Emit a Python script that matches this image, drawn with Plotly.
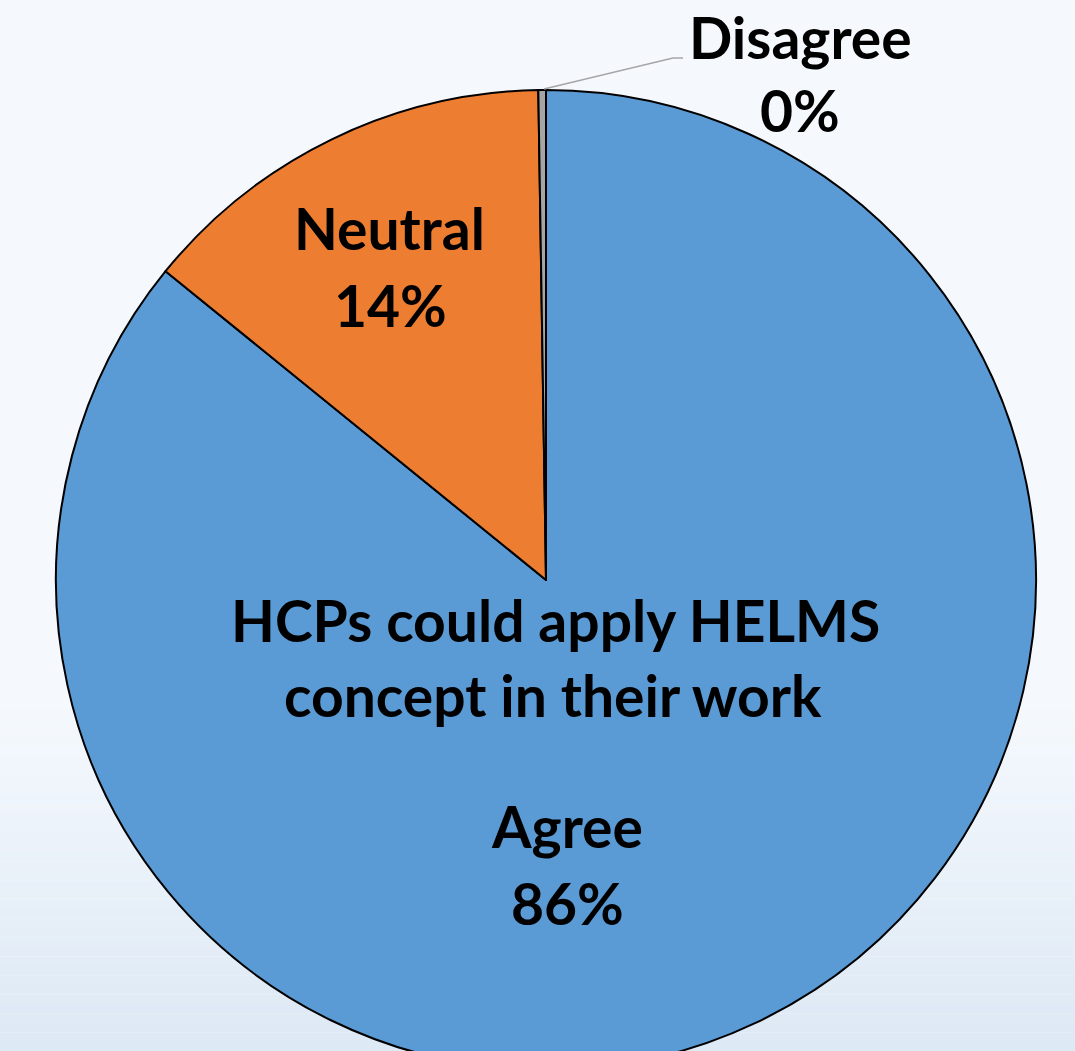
import plotly.graph_objects as go

# ---- data ----
labels = ["Agree", "Neutral", "Disagree"]
values = [85.85, 13.9, 0.25]
pct_text = ["86%", "14%", "0%"]
colors = ["#5B9BD5", "#ED7D31", "#A5A5A5"]
title_lines = ["HCPs could apply HELMS", "concept in their work"]

W, H = 1075, 1080
CX, CY, R = 546, 580, 490


def px(x):
    return x / W


def py(y):
    return (H - y) / H


fig = go.Figure()
fig.add_trace(go.Pie(
    labels=labels,
    values=values,
    sort=False,
    direction="clockwise",
    rotation=0,
    marker=dict(colors=colors, line=dict(color="#000000", width=2)),
    textinfo="none",
    hoverinfo="label+percent",
    showlegend=False,
    domain=dict(x=[px(CX - R), px(CX + R)], y=[py(CY + R), py(CY - R)]),
))

# background gradient (top part flat, lower part fading to light blue)
shapes = []
top_rgb = (245, 249, 253)
bot_rgb = (219, 231, 244)
start, end = 700, 1080
n = 40
for i in range(n):
    y0 = start + (end - start) * i / n
    y1 = start + (end - start) * (i + 1) / n
    t = (i + 0.5) / n
    c = tuple(round(a + (b - a) * t) for a, b in zip(top_rgb, bot_rgb))
    shapes.append(dict(type="rect", xref="paper", yref="paper",
                       x0=0, x1=1, y0=py(y1), y1=py(y0),
                       fillcolor="rgb(%d,%d,%d)" % c, line=dict(width=0),
                       layer="below"))

# leader line for Disagree
shapes.append(dict(type="path", xref="paper", yref="paper",
                   path="M %f,%f L %f,%f L %f,%f" % (px(544), py(89), px(673), py(58), px(683), py(58)),
                   line=dict(color="#A6A6A6", width=1.5)))

font = dict(family="Lato", size=57, color="#000000")
ann = []


def add(text, x, y):
    ann.append(dict(text="<b>%s</b>" % text, x=px(x), y=py(y), xref="paper", yref="paper",
                    xanchor="center", yanchor="middle", showarrow=False, font=font))


# data labels
label_pos = {"Agree": ((567, 826), (567, 903)),
             "Neutral": ((389, 228), (390, 305)),
             "Disagree": ((800, 37), (800, 110))}
for lab, pct in zip(labels, pct_text):
    (x1, y1), (x2, y2) = label_pos[lab]
    add(lab, x1, y1)
    add(pct, x2, y2)

# title inside pie
add(title_lines[0], 555, 620)
add(title_lines[1], 553, 695)

fig.update_layout(
    width=W, height=H,
    margin=dict(l=0, r=0, t=0, b=0),
    paper_bgcolor="rgb(245,249,253)",
    plot_bgcolor="rgba(0,0,0,0)",
    shapes=shapes,
    annotations=ann,
)

fig.write_html("out.html", config={"displayModeBar": False}, post_script=(
    "document.body.style.margin='0';"
    "document.body.style.overflow='hidden';"
    "document.documentElement.style.overflow='hidden';"
))
